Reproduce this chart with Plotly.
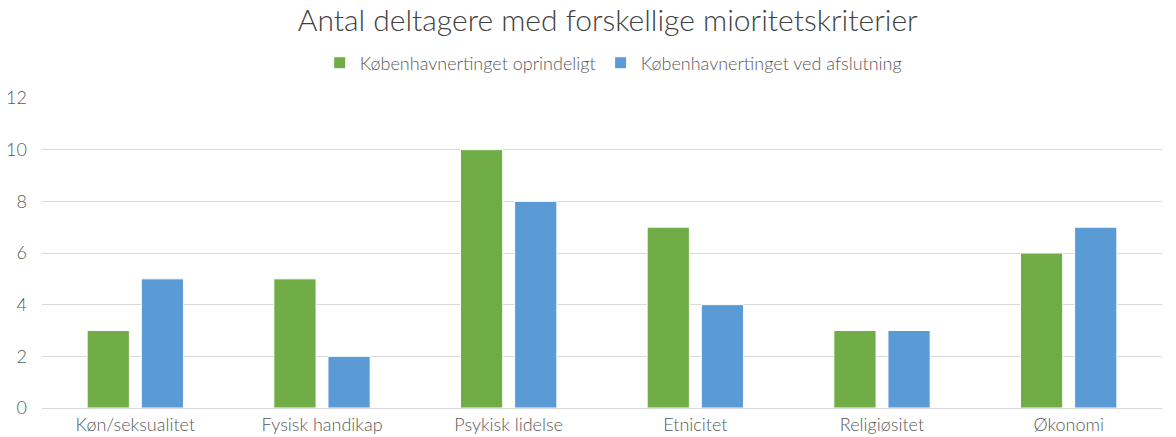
import plotly.graph_objects as go

categories = ["Køn/seksualitet", "Fysisk handikap", "Psykisk lidelse", "Etnicitet", "Religiøsitet", "Økonomi"]
oprindeligt = [3, 5, 10, 7, 3, 6]
afslutning = [5, 2, 8, 4, 3, 7]
series_names = ["Københavnertinget oprindeligt", "Københavnertinget ved afslutning"]
y_ticks = [0, 2, 4, 6, 8, 10, 12]

fig = go.Figure()
fig.add_trace(go.Bar(x=categories, y=oprindeligt, name=series_names[0],
                     marker=dict(color="#70AD47", line=dict(color="#ffffff", width=1))))
fig.add_trace(go.Bar(x=categories, y=afslutning, name=series_names[1],
                     marker=dict(color="#5B9BD5", line=dict(color="#ffffff", width=1))))

fig.update_layout(
    width=1176, height=437,
    margin=dict(l=34, r=22, t=90, b=37, autoexpand=False),
    paper_bgcolor="white", plot_bgcolor="white",
    font=dict(family="Lato, Roboto, sans-serif", color="#595959", size=18, weight=300),
    title=dict(text="Antal deltagere med forskellige mioritetskriterier",
               x=0.51, xanchor="center", y=0.972, yanchor="middle", yref="container",
               font=dict(size=30, color="#404040", family="Lato, sans-serif", weight=300)),
    legend=dict(orientation="h", x=0.51, xanchor="center", y=0.874, yanchor="middle",
                yref="container",
                font=dict(size=18, color="#595959", weight=300), tracegroupgap=0),
    bargap=0.42, bargroupgap=0.22,
    xaxis=dict(showgrid=False, showline=True, linecolor="#d9d9d9", linewidth=1,
               ticks="", tickfont=dict(size=18, color="#595959", weight=300), automargin=False),
    yaxis=dict(range=[0, 12], tickvals=y_ticks, showgrid=True, gridcolor="#d9d9d9",
               gridwidth=1, zeroline=False, ticks="", automargin=False,
               tickfont=dict(size=18, color="#595959", weight=300),
               ticklabelstandoff=14),
)

fig.write_html("out.html")
